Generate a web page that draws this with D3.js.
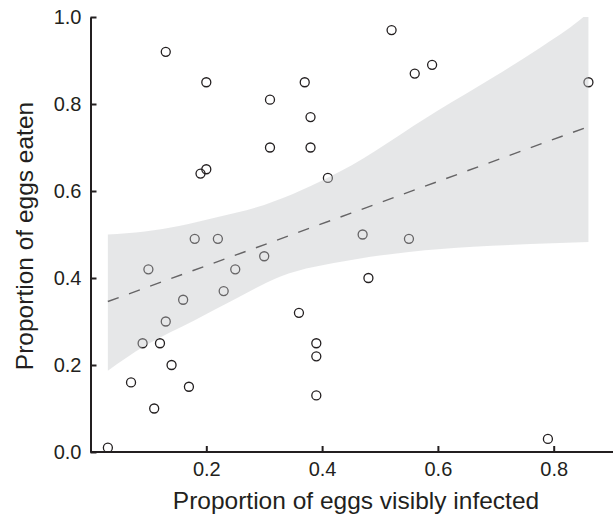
<!DOCTYPE html>
<html>
<head>
<meta charset="utf-8">
<script src="https://cdn.jsdelivr.net/npm/d3@7"></script>
<style>
  html, body { margin: 0; padding: 0; background: #fff; }
  svg text { font-family: "Liberation Sans", Arial, sans-serif; fill: #231f20; }
</style>
</head>
<body>
<svg id="chart" width="613" height="516"></svg>
<script>
// ---- data ----
const infected = [0.03,0.07,0.11,0.09,0.12,0.10,0.13,0.14,0.16,0.17,0.18,0.22,0.23,0.25,0.30,
                  0.13,0.20,0.19,0.20,0.31,0.31,0.37,0.38,0.38,0.41,0.36,0.39,0.39,0.39,
                  0.47,0.48,0.52,0.56,0.59,0.55,0.79,0.86];
const eaten    = [0.01,0.16,0.10,0.25,0.25,0.42,0.30,0.20,0.35,0.15,0.49,0.49,0.37,0.42,0.45,
                  0.92,0.85,0.64,0.65,0.81,0.70,0.85,0.77,0.70,0.63,0.32,0.25,0.22,0.13,
                  0.50,0.40,0.97,0.87,0.89,0.49,0.03,0.85];

const fitX = [0.03, 0.45, 0.86];
const fitY = [0.346, 0.549, 0.748];

const bandX     = [0.03, 0.094, 0.155, 0.22, 0.30, 0.43, 0.60, 0.70, 0.776, 0.845, 0.86];
const bandUpper = [0.50, 0.507, 0.52, 0.54, 0.568, 0.644, 0.785, 0.865, 0.929, 0.993, 1.01];
const bandLowX  = [0.03, 0.094, 0.18, 0.25, 0.327, 0.448, 0.55, 0.661, 0.76, 0.86];
const bandLower = [0.187, 0.244, 0.303, 0.352, 0.403, 0.441, 0.46, 0.472, 0.478, 0.483];

const xTicks = [0.2, 0.4, 0.6, 0.8];
const yTicks = [0.0, 0.2, 0.4, 0.6, 0.8, 1.0];

// ---- layout ----
const svg = d3.select("#chart");
const mLeft = 90.5, mRight = 613, mTop = 17, mBottom = 452;
const x = d3.scaleLinear().domain([0, 1]).range([mLeft, mLeft + 579]);
const y = d3.scaleLinear().domain([0, 1]).range([mBottom, mTop]);

svg.append("defs").append("clipPath").attr("id", "plotclip")
  .append("rect").attr("x", mLeft).attr("y", mTop)
  .attr("width", mRight - mLeft).attr("height", mBottom - mTop);

// points
const pts = infected.map((v, i) => ({x: v, y: eaten[i]}));
svg.append("g").selectAll("circle").data(pts).join("circle")
  .attr("cx", d => x(d.x)).attr("cy", d => y(d.y)).attr("r", 4.5)
  .attr("fill", "none").attr("stroke", "#231f20").attr("stroke-width", 1.3);

// fitted line
const fit = fitX.map((v, i) => [v, fitY[i]]);
svg.append("path").datum(fit)
  .attr("d", d3.line().x(d => x(d[0])).y(d => y(d[1])))
  .attr("fill", "none").attr("stroke", "#231f20").attr("stroke-width", 1.4)
  .attr("stroke-dasharray", "11.5,11");

// confidence band (overlaid, translucent): upper edge forward, lower edge back
const upperPts = bandX.map((v, i) => [x(v), y(bandUpper[i])]);
const lowerPts = bandLowX.map((v, i) => [x(v), y(bandLower[i])]).reverse();
const upPath = d3.line().curve(d3.curveMonotoneX)(upperPts);
const loPath = d3.line().curve(d3.curveMonotoneX)(lowerPts);
svg.append("path")
  .attr("clip-path", "url(#plotclip)")
  .attr("d", upPath + "L" + loPath.slice(1) + "Z")
  .attr("fill", "#c4c6c8").attr("fill-opacity", 0.42);

// axes
const xAxis = d3.axisBottom(x).tickValues(xTicks).tickFormat(d3.format(".1f"))
  .tickSizeInner(-6).tickSizeOuter(0).tickPadding(10);
const gx = svg.append("g").attr("transform", `translate(0,${mBottom})`).call(xAxis);
gx.select(".domain").attr("d", `M${mLeft},0H${mRight}`);

const yAxis = d3.axisLeft(y).tickValues(yTicks).tickFormat(d3.format(".1f"))
  .tickSizeInner(-6).tickSizeOuter(0).tickPadding(9);
const gy = svg.append("g").attr("transform", `translate(${mLeft},0)`).call(yAxis);

[gx, gy].forEach(g => {
  g.select(".domain").attr("stroke", "#231f20").attr("stroke-width", 2);
  g.selectAll(".tick line").attr("stroke", "#231f20").attr("stroke-width", 2);
  g.selectAll(".tick text").attr("font-size", 20).attr("fill", "#231f20")
    .style("font-family", "'Liberation Sans', Arial, sans-serif");
});
gx.selectAll(".tick text").attr("dy", "0.71em");

// titles
svg.append("text").attr("x", 356).attr("y", 508.5).attr("text-anchor", "middle")
  .attr("font-size", 24.5).text("Proportion of eggs visibly infected");
svg.append("text").attr("transform", `translate(33,236) rotate(-90)`).attr("text-anchor", "middle")
  .attr("font-size", 24.5).text("Proportion of eggs eaten");
</script>
</body>
</html>
